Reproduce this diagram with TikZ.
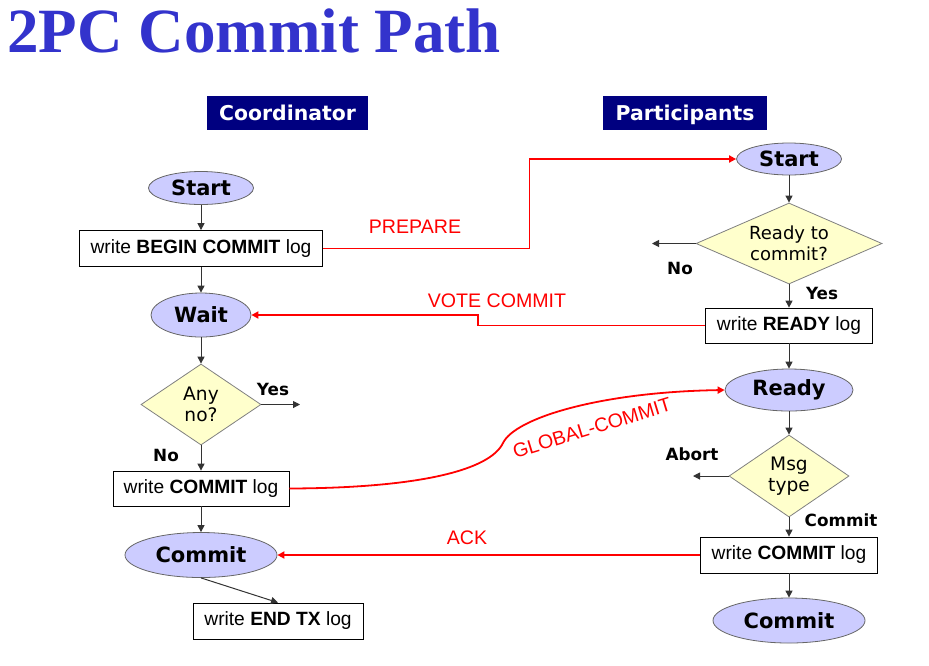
\documentclass[tikz,border=0pt]{standalone}
\usepackage{xcolor}
\usepackage{fontspec}
\setmainfont{Liberation Sans}
\newfontfamily\titlefont{Liberation Serif}
\newfontfamily\dejavu{DejaVu Sans}
\usepackage{tikz}
\usetikzlibrary{positioning,arrows.meta,shapes.geometric,calc}
\definecolor{titleblue}{RGB}{51,51,204}
\definecolor{headblue}{RGB}{0,0,128}
\definecolor{statefill}{RGB}{204,204,255}
\definecolor{testfill}{RGB}{255,255,204}

\begin{document}
\begin{tikzpicture}[x=0.5pt, y=-0.5pt,
  >={Triangle[length=3.5pt,width=3.5pt]},
  head/.style={fill=headblue, text=white, font=\dejavu\bfseries\fontsize{10.2}{12}\selectfont,
               minimum width=80.5pt, minimum height=17pt, inner sep=0pt,
               text height=7.5pt, text depth=0pt},
  state/.style={ellipse, draw=black!60, fill=statefill, inner sep=0pt,
                font=\dejavu\bfseries\fontsize{10.5}{12}\selectfont},
  logbox/.style={draw, fill=white, minimum height=18pt, inner sep=0pt,
                 font=\fontsize{9.6}{11}\selectfont},
  test/.style={diamond, draw=black!50, fill=testfill, align=center, inner sep=0pt,
               shape aspect=1.48, font=\dejavu\fontsize{9.3}{10.5}\selectfont},
  lbl/.style={font=\dejavu\bfseries\fontsize{8.4}{10}\selectfont, inner sep=0pt},
  arr/.style={->, draw=black!80, line width=0.5pt},
  msg/.style={->, draw=red, line width=0.9pt},
  msglbl/.style={text=red, font=\fontsize{9.8}{12}\selectfont, inner sep=0pt},
]
\path[use as bounding box, fill=white] (0,0) rectangle (929,665);

\node[anchor=base west, inner sep=0pt, text=titleblue,
      font=\titlefont\bfseries\fontsize{31.5}{36}\selectfont] (title) at (7,52) {2PC Commit Path};

\node[head] (hcoord) at (287.5,113) {Coordinator};
\node[head, minimum width=82pt] (hpart) at (685,113) {Participants};

% coordinator
\node[state, minimum width=52.5pt, minimum height=16.5pt] (cstart) at (201,188) {Start};
\node[logbox, minimum width=121.5pt] (cbegin) at (201,248.5) {write \textbf{BEGIN COMMIT} log};
\node[state, minimum width=50pt, minimum height=22pt] (wait) at (201,315) {Wait};
\node[test, minimum width=60pt, minimum height=40.5pt] (anyno) at (201,404.5) {Any\\no?};
\node[logbox, minimum width=88pt, minimum height=17.5pt] (clog) at (201,488.5) {write \textbf{COMMIT} log};
\node[state, minimum width=76pt, minimum height=22.5pt] (ccommit) at (201,555) {Commit};
\node[logbox, minimum width=85pt] (cend) at (278,621) {write \textbf{END TX} log};

% participants
\node[state, minimum width=52.5pt, minimum height=16pt] (pstart) at (789,159) {Start};
\node[test, shape aspect=2.3, minimum width=93pt, minimum height=40.5pt,
      font=\dejavu\fontsize{9}{10.5}\selectfont] (rtc) at (789,243.5) {Ready to\\commit?};
\node[logbox, minimum width=83.5pt, minimum height=17.5pt] (plog) at (789,325.5) {write \textbf{READY} log};
\node[state, minimum width=64pt, minimum height=21pt] (pready) at (789,390) {Ready};
\node[test, minimum width=60pt, minimum height=41pt] (msgtype) at (789,476) {Msg\\type};
\node[logbox, minimum width=88.5pt] (pclog) at (789,555) {write \textbf{COMMIT} log};
\node[state, minimum width=76pt, minimum height=22.5pt] (pcommit) at (789,620.5) {Commit};

\coordinate (yesend) at (300,404.5);
\coordinate (noend) at (652,243.5);
\coordinate (abortend) at (693,476);
\coordinate (gbend) at (503,443);

\node[lbl] (lyes1) at (273,389) {Yes};
\node[lbl] (lno1) at (166,455) {No};
\node[lbl] (lno2) at (680,268) {No};
\node[lbl] (lyes2) at (822,293) {Yes};
\node[lbl] (labort) at (692,454) {Abort};
\node[lbl] (lcommit) at (841,520) {Commit};

\draw[arr] (cstart) -- (cbegin);
\draw[arr] (cbegin) -- (wait);
\draw[arr] (wait) -- (anyno);
\draw[arr] (anyno.east) -- (yesend);
\draw[arr] (anyno) -- (clog);
\draw[arr] (clog) -- (ccommit);
\draw[arr] (ccommit.south) -- (cend.north);

\draw[arr] (pstart) -- (rtc);
\draw[arr] (rtc.west) -- (noend);
\draw[arr] (rtc) -- (plog);
\draw[arr] (plog) -- (pready);
\draw[arr] (pready) -- (msgtype);
\draw[arr] (msgtype.west) -- (abortend);
\draw[arr] (msgtype) -- (pclog);
\draw[arr] (pclog) -- (pcommit);

\draw[msg] (cbegin.east) -| ($(cbegin.east)!.5!(pstart.west)$) |- (pstart.west);
\draw[msg] (plog.west) -| ($(plog.west)!.5!(wait.east)$) |- (wait.east);
\draw[msg] (clog.east) .. controls (420,488) and (490,470) .. (gbend)
  .. controls (515,418) and (600,392) .. (pready.west);
\draw[msg] (pclog.west) -- (ccommit.east);

\node[msglbl] (lprep) at (415,227) {PREPARE};
\node[msglbl] (lvote) at (497,301) {VOTE COMMIT};
\node[msglbl, rotate=17] (lglobal) at (592,428) {GLOBAL-COMMIT};
\node[msglbl] (lack) at (467,538) {ACK};
\end{tikzpicture}
\end{document}
